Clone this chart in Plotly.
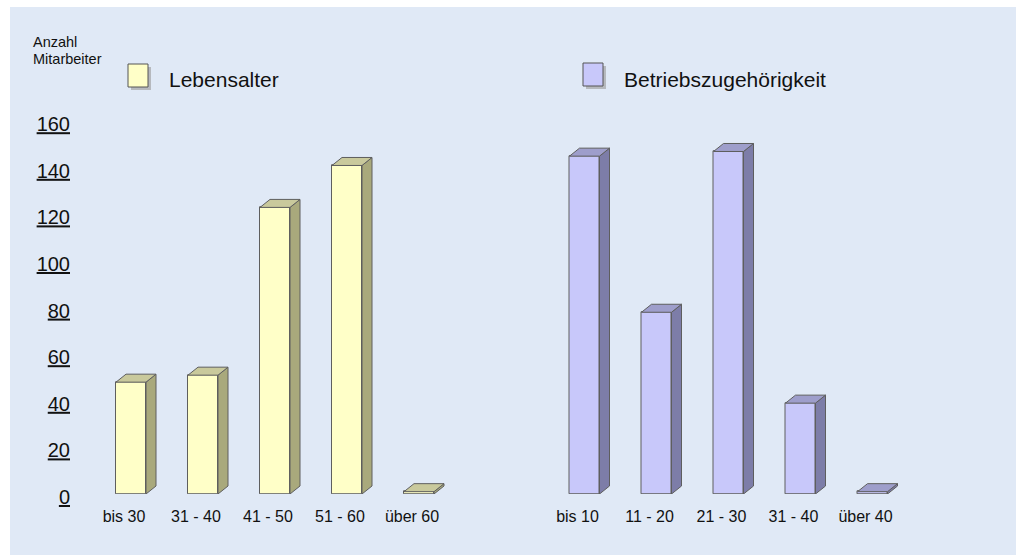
import plotly.graph_objects as go

# ---- data ----
age_categories = ["bis 30", "31 - 40", "41 - 50", "51 - 60", "über 60"]
age_values = [48, 51, 123, 141, 1]
tenure_categories = ["bis 10", "11 - 20", "21 - 30", "31 - 40", "über 40"]
tenure_values = [145, 78, 147, 39, 1]
y_tickvals = [0, 20, 40, 60, 80, 100, 120, 140, 160]
y_ticktext = ["<u>%d</u>" % v for v in y_tickvals]
series_names = ["Lebensalter", "Betriebszugehörigkeit"]
y_title_lines = ["Anzahl", "Mitarbeiter"]

# ---- styles / geometry ----
W, H = 1016, 555
FONT = "Liberation Sans, Arial, sans-serif"
BG = "#e0e9f6"
EDGE = "#5e5e5e"
colors = {
    "front": ["#ffffc8", "#c8c8fa"],
    "side": ["#a9a97c", "#7d7da8"],
    "top": ["#c9c99c", "#9e9ecb"],
}
Y_MAX = 172
Y0_PX = 494          # pixel row of value 0
PX_PER_UNIT = 2.33
CAT_PX = 72          # pixel spacing of categories
BAR_W = 30 / CAT_PX  # bar width in category units
DX = 10 / CAT_PX     # 3d depth, x (category units)
DY = 8 / PX_PER_UNIT # 3d depth, y (value units)

ydom0 = (H - Y0_PX) / H
ydom1 = (H - (Y0_PX - Y_MAX * PX_PER_UNIT)) / H
left_start = 131 - CAT_PX / 2
right_start = 584.5 - CAT_PX / 2
xdom_left = [left_start / W, (left_start + 5 * CAT_PX) / W]
xdom_right = [right_start / W, (right_start + 5 * CAT_PX) / W]

fig = go.Figure()
shapes = []

# background panel
shapes.append(dict(type="rect", xref="paper", yref="paper", x0=10 / W, x1=1,
                   y0=0, y1=1 - 7 / H, fillcolor=BG, line=dict(width=0), layer="below"))

groups = [
    (age_categories, age_values, "x", 0),
    (tenure_categories, tenure_values, "x2", 1),
]
for cats, vals, xref, gi in groups:
    pos = list(range(len(cats)))
    fig.add_trace(go.Bar(
        x=pos, y=vals, xaxis=xref, yaxis="y", width=BAR_W, name=series_names[gi],
        marker=dict(color=colors["front"][gi], line=dict(color=EDGE, width=1)),
        showlegend=False, hoverinfo="x+y",
    ))
    for p, v in zip(pos, vals):
        xl, xr = p - BAR_W / 2, p + BAR_W / 2
        side = (f"M{xr},0 L{xr + DX},{DY} L{xr + DX},{v + DY} L{xr},{v} Z")
        top = (f"M{xl},{v} L{xr},{v} L{xr + DX},{v + DY} L{xl + DX},{v + DY} Z")
        shapes.append(dict(type="path", xref=xref, yref="y", path=side,
                           fillcolor=colors["side"][gi], line=dict(color=EDGE, width=1), layer="above"))
        shapes.append(dict(type="path", xref=xref, yref="y", path=top,
                           fillcolor=colors["top"][gi], line=dict(color=EDGE, width=1), layer="above"))

# legend boxes (with shadow)
legend_boxes = [(128, 64), (583, 63)]
legend_text_x = [167, 622]
annotations = []
for gi, (bx, by) in enumerate(legend_boxes):
    shapes.append(dict(type="rect", xref="paper", yref="paper",
                       x0=(bx + 3) / W, x1=(bx + 23) / W, y0=1 - (by + 26) / H, y1=1 - (by + 3) / H,
                       fillcolor="#9a9a9a", line=dict(width=0), opacity=0.6))
    shapes.append(dict(type="rect", xref="paper", yref="paper",
                       x0=bx / W, x1=(bx + 20) / W, y0=1 - (by + 23) / H, y1=1 - by / H,
                       fillcolor=colors["front"][gi], line=dict(color="#555555", width=1)))
    annotations.append(dict(xref="paper", yref="paper", x=legend_text_x[gi] / W, y=1 - 79 / H,
                            xanchor="left", yanchor="middle", showarrow=False,
                            text=series_names[gi], font=dict(family=FONT, size=21, color="#111111")))

for i, line in enumerate(y_title_lines):
    annotations.append(dict(xref="paper", yref="paper", x=31 / W, y=1 - (42 + 17 * i) / H,
                            xanchor="left", yanchor="middle", showarrow=False,
                            text=line, font=dict(family=FONT, size=14.5, color="#111111")))

xaxis_common = dict(range=[-0.5, 4.5], showgrid=False, zeroline=False, showline=False,
                    ticks="", tickfont=dict(family=FONT, size=16, color="#111111"),
                    ticklabelshift=-7, ticklabelstandoff=11, fixedrange=True, automargin=False)

fig.update_layout(
    template="none",
    width=W, height=H,
    margin=dict(l=0, r=0, t=0, b=0, pad=0),
    paper_bgcolor="white", plot_bgcolor="rgba(0,0,0,0)",
    showlegend=False,
    bargap=0,
    xaxis=dict(domain=xdom_left, anchor="y", tickvals=list(range(5)),
               ticktext=age_categories, **xaxis_common),
    xaxis2=dict(domain=xdom_right, anchor="y", tickvals=list(range(5)),
                ticktext=tenure_categories, **xaxis_common),
    yaxis=dict(domain=[ydom0, ydom1], range=[0, Y_MAX], anchor="x",
               tickvals=y_tickvals, ticktext=y_ticktext, showgrid=False, zeroline=False,
               showline=False, ticks="", ticklabelstandoff=24, ticklabelshift=3,
               tickfont=dict(family=FONT, size=20, color="#111111"), fixedrange=True,
               automargin=False),
    shapes=shapes,
    annotations=annotations,
)

fig.write_html("out.html")
